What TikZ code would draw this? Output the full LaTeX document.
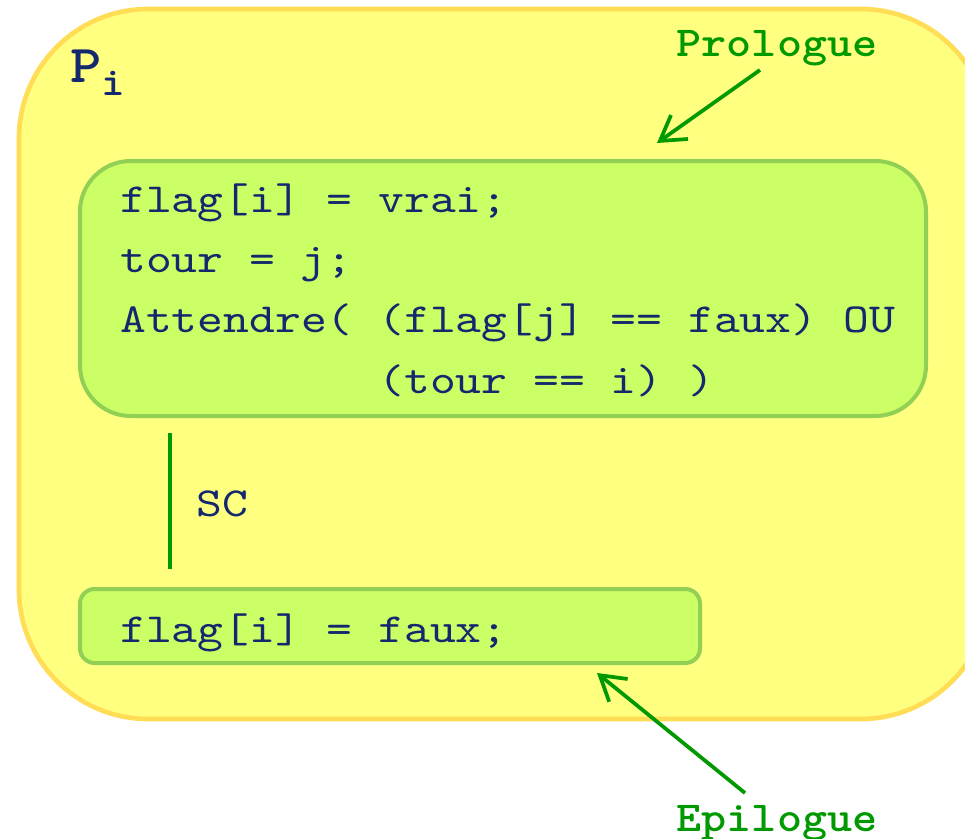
\documentclass[tikz,border=0pt]{standalone}
\usepackage{fontspec}
\newfontfamily\codefont{lmmono10-regular.otf}[FakeStretch=1.19]
\newfontfamily\tagfont{lmmonolt10-bold.otf}[FakeStretch=1.12]
\usetikzlibrary{arrows.meta, positioning}

\definecolor{procfill}{HTML}{FFFF80}
\definecolor{procline}{HTML}{FFDD55}
\definecolor{blockfill}{HTML}{CCFF66}
\definecolor{blockline}{HTML}{92CF55}
\definecolor{codeblue}{HTML}{14286E}
\definecolor{tagred}{HTML}{009900}

\begin{document}
\begin{tikzpicture}[x=0.75pt, y=-0.75pt]

% define looks
\tikzstyle{code}=[anchor=base west, inner sep=0pt, text=codeblue, font=\codefont\fontsize{31}{38}\selectfont]
\tikzstyle{tag}=[anchor=base, inner sep=0pt, text=tagred, font=\tagfont\fontsize{32}{38}\selectfont]
\tikzstyle{point}=[draw=tagred, line width=2.8pt, -{Straight Barb[length=18pt, width=22pt, line width=2.8pt]}]

\useasboundingbox (0,0) rectangle (965,839);
\clip (0,0) rectangle (965,839);

% process P_i
\draw[fill=procfill, draw=procline, line width=3.5pt, rounded corners=97pt] (19,9) rectangle (990,719);
\node[anchor=base west, inner sep=0pt, text=codeblue, font=\tagfont\fontsize{40}{40}\selectfont] (pname) at (70,82)
  {P\raisebox{-10pt}{\fontsize{30}{30}\selectfont i}};

% prologue block
\draw[fill=blockfill, draw=blockline, line width=3pt, rounded corners=38pt] (80,161) rectangle (926,416);
\node[code] (l1) at (120,212) {flag[i] = vrai;};
\node[code] (l2) at (120,272) {tour = j;};
\node[code] (l3) at (120,332) {Attendre( (flag[j] == faux) OU};
\node[code] (l4) at (120,393) {\phantom{Attendre(}\ (tour == i) )};

% critical section
\coordinate (sctop) at (170,433);
\coordinate (scbot) at (170,569);
\draw[draw=tagred, line width=3pt] (sctop) -- (scbot);
\node[code] (sc) at (196,516) {SC};

% epilogue block
\draw[fill=blockfill, draw=blockline, line width=3pt, rounded corners=11pt] (80,589) rectangle (700,663);
\node[code] (l5) at (120,642) {flag[i] = faux;};

% tags
\node[tag] (prologue) at (777,56) {Prologue};
\node[tag] (epilogue) at (777,831) {Epilogue};
\coordinate (protip) at (657,143);
\coordinate (epitip) at (597,673);
\draw[point] (760,70) -- (protip);
\draw[point] (745,793) -- (epitip);

\end{tikzpicture}
\end{document}
